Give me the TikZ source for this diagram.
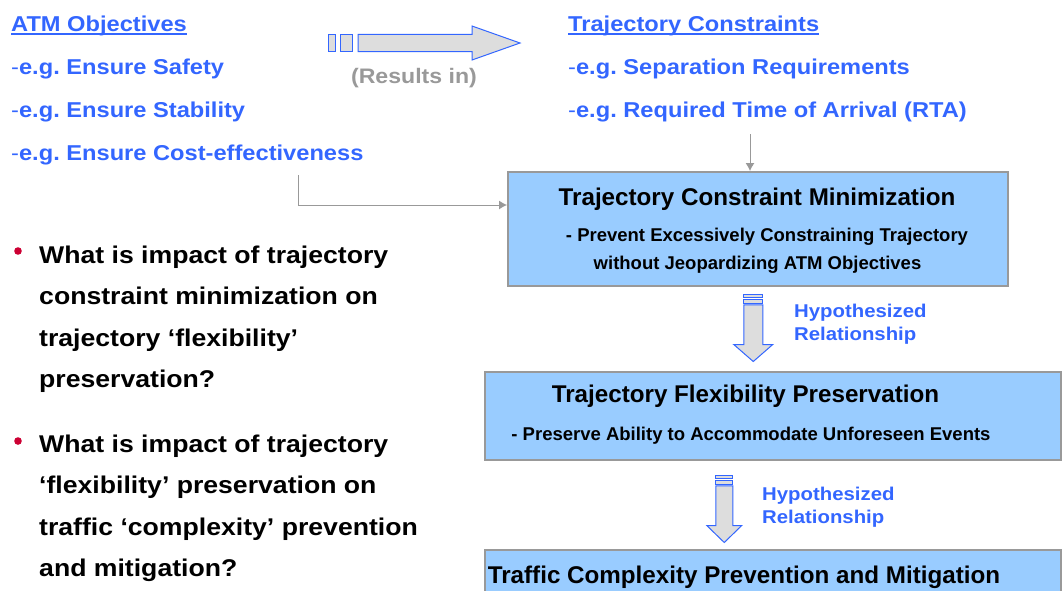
\documentclass[tikz,border=0pt]{standalone}
\usepackage{fontspec}
\setmainfont{Liberation Sans}
\newfontfamily\widefont{Liberation Sans}[FakeStretch=1.1]
\usetikzlibrary{arrows.meta,calc}
\definecolor{objblue}{HTML}{3366FF}
\definecolor{boxblue}{HTML}{99CCFF}
\definecolor{linegray}{HTML}{999999}
\definecolor{arrowgray}{HTML}{DDDDDD}
\definecolor{dotred}{HTML}{CC0033}
\frenchspacing

\begin{document}
\begin{tikzpicture}[x=1pt, y=-1pt,
  bluetext/.style={anchor=base west, inner sep=0pt, text=objblue, font=\widefont\bfseries\fontsize{21.5}{26}\selectfont},
  titletext/.style={anchor=base, inner sep=0pt, font=\bfseries\fontsize{24.2}{29}\selectfont},
  subtext/.style={anchor=base, inner sep=0pt, font=\bfseries\fontsize{18.5}{22}\selectfont},
  hyptext/.style={anchor=base west, inner sep=0pt, align=left, text=objblue, font=\widefont\bfseries\fontsize{18.5}{23}\selectfont},
  question/.style={anchor=base west, inner sep=0pt, align=left, font=\widefont\bfseries\fontsize{24.2}{41.5}\selectfont},
  stage/.style={shape=rectangle, draw=linegray, fill=boxblue, line width=1.5pt, inner sep=0pt, anchor=north west},
  conn/.style={draw=linegray, line width=1pt, -{Latex[length=8pt,width=9pt]}},
  hollow/.style={draw=objblue, fill=arrowgray, line width=1pt}]

\useasboundingbox (0,0) rectangle (1064,590);
\clip (0,0) rectangle (1064,590);

\node [bluetext] (atm) at (11,31) {ATM Objectives};
\node [bluetext] (safety) at (11,74) {\textmd{-}e.g. Ensure Safety};
\node [bluetext] (stability) at (11,117) {\textmd{-}e.g. Ensure Stability};
\node [bluetext] (cost) at (11,160) {\textmd{-}e.g. Ensure Cost-effectiveness};
\draw [objblue, line width=2pt] ([yshift=-2.5pt]atm.base west) -- ([yshift=-2.5pt]atm.base east);

\node [bluetext] (tc) at (568,31) {Trajectory Constraints};
\node [bluetext] (sep) at (568,74) {\textmd{-}e.g. Separation Requirements};
\node [bluetext] (rta) at (568,117) {\textmd{-}e.g. Required Time of Arrival (RTA)};
\draw [objblue, line width=2pt] ([yshift=-2.5pt]tc.base west) -- ([yshift=-2.5pt]tc.base east);

\draw [hollow] (328,34.3) rectangle (335,51.7);
\draw [hollow] (340,34.3) rectangle (352,51.7);
\draw [hollow] (358,34.3) -- (472,34.3) -- (472,26) -- (520,43) -- (472,60) -- (472,51.7) -- (358,51.7) -- cycle;
\node [anchor=base, inner sep=0pt, text=linegray, font=\widefont\bfseries\fontsize{21}{25}\selectfont] (res) at (414,83) {(Results in)};

\node [stage, minimum width=500pt, minimum height=114pt] (cm) at (507,171) {};
\node [titletext] (cmt) at (757,205) {Trajectory Constraint Minimization};
\node [subtext] (cms1) at (767,241) {- Prevent Excessively Constraining Trajectory};
\node [subtext] (cms2) at (757.5,269) {without Jeopardizing ATM Objectives};

\node [stage, minimum width=576pt, minimum height=88pt] (fp) at (484,371) {};
\node [titletext] (fpt) at (745.5,402) {Trajectory Flexibility Preservation};
\node [subtext] (fps) at (751,440) {- Preserve Ability to Accommodate Unforeseen Events};

\node [stage, minimum width=576pt, minimum height=80pt] (tcp) at (484,549) {};
\node [titletext] (tcpt) at (744,583) {Traffic Complexity Prevention and Mitigation};

\coordinate (c1) at (750,134);
\draw [conn] (c1) -- (c1 |- cm.north);
\coordinate (c2) at (298,175);
\coordinate (c3) at (298,205);
\draw [conn] (c2) -- (c3) -- (c3 -| cm.west);

\coordinate (h1) at ($(cm.south)+(-4.5,8)$);
\coordinate (h2) at ($(fp.south)+(-48.5,15)$);
\foreach \top/\w/\hw in {h1/9.5/19.5, h2/8.5/17.5} {
  \begin{scope}[shift={(\top)}]
    \draw [hollow] (-\w,0) rectangle (\w,3.3);
    \draw [hollow] (-\w,5.3) rectangle (\w,8.6);
    \draw [hollow] (-\w,10.3) -- (\w,10.3) -- (\w,50) -- (\hw,50) -- (0,67) -- (-\hw,50) -- (-\w,50) -- cycle;
  \end{scope}
}
\node [hyptext] (hyp1) at (794,340) {Hypothesized\\Relationship};
\node [hyptext] (hyp2) at (762,523) {Hypothesized\\Relationship};

\node [circle, fill=dotred, inner sep=0pt, minimum size=7.6pt] (b1) at (18,251) {};
\node [circle, fill=dotred, inner sep=0pt, minimum size=7.6pt] (b2) at (18,441) {};
\node [question] (q1) at (39,387.5) {What is impact of trajectory\\constraint minimization on\\trajectory ‘flexibility’\\preservation?};
\node [question] (q2) at (39,576.5) {What is impact of trajectory\\‘flexibility’ preservation on\\traffic ‘complexity’ prevention\\and mitigation?};
\end{tikzpicture}
\end{document}
